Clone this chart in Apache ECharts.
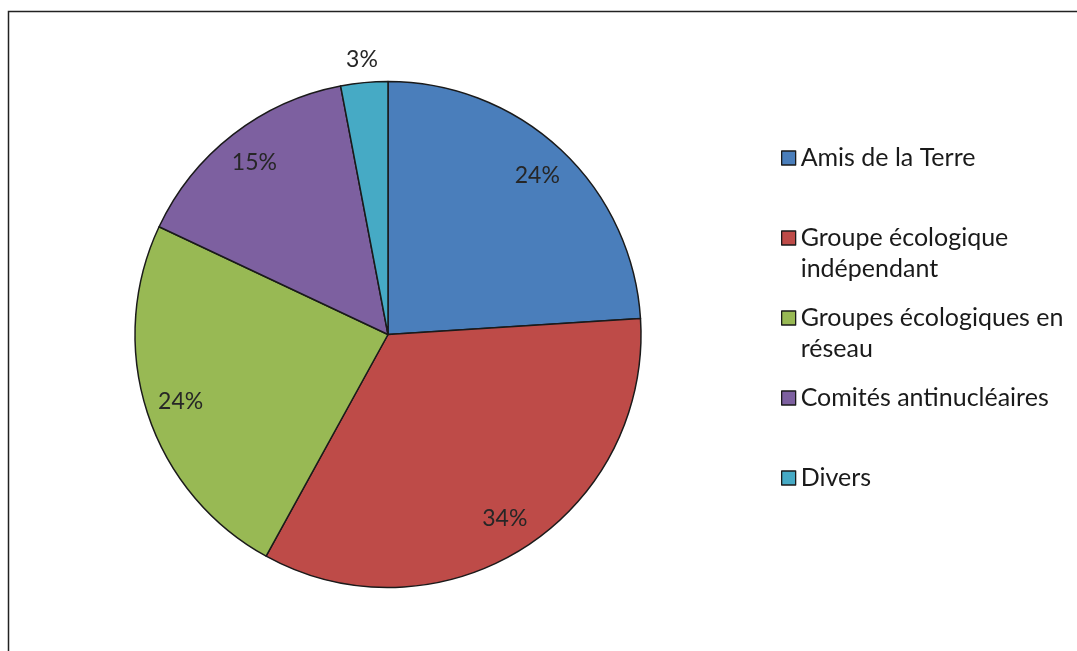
<!DOCTYPE html>
<html>
<head>
<meta charset="utf-8">
<style>
  html, body { margin: 0; padding: 0; background: #fff; }
  #chart { width: 1077px; height: 651px; }
</style>
<script src="https://cdn.jsdelivr.net/npm/echarts@6/dist/echarts.min.js"></script>
</head>
<body>
<div id="chart"></div>
<script>
// Répartition des groupes (en %)
var categories = [
  'Amis de la Terre',
  'Groupe écologique indépendant',
  'Groupes écologiques en réseau',
  'Comités antinucléaires',
  'Divers'
];
var values = [24, 34, 24, 15, 3];
// Legend text, wrapped as it is displayed
var legendLines = [
  ['Amis de la Terre'],
  ['Groupe écologique', 'indépendant'],
  ['Groupes écologiques en', 'réseau'],
  ['Comités antinucléaires'],
  ['Divers']
];
// Slices whose percentage sits outside the pie
var outsideLabels = ['Divers'];

var colors = ['#4A7EBB', '#BE4B48', '#98B954', '#7D60A0', '#46AAC5'];

var FONT = 'Lato, "Open Sans", sans-serif';
var LEGEND_FONT_SIZE = 25;
var LABEL_FONT_SIZE = 23;
var LINE_H = 31;
var R = 253;
var CENTER = [388, 334.5];
var LEGEND_LEFT = 781;
var LEGEND_FIRST_Y = 158;
var LEGEND_STEP = 80;

var chart = echarts.init(document.getElementById('chart'), null, { renderer: 'canvas' });

var pieData = categories.map(function (name, i) {
  return { name: name, value: values[i] };
});

// One legend block per entry. Wrapped entries get blank lines on top so the
// text block stays centred on the icon while the first line lines up with it.
var legends = categories.map(function (name, i) {
  var n = legendLines[i].length;
  var blank = new Array(n).join('\n');
  var blockH = (2 * n - 1) * LINE_H;
  var cy = LEGEND_FIRST_Y + i * LEGEND_STEP;
  return {
    data: [name],
    orient: 'vertical',
    left: LEGEND_LEFT,
    top: cy - blockH / 2,
    padding: 0,
    itemWidth: 14,
    itemHeight: 14,
    itemGap: 0,
    icon: 'rect',
    selectedMode: false,
    itemStyle: { borderColor: '#1a1a1a', borderWidth: 1.3 },
    formatter: function () { return blank + legendLines[i].join('\n'); },
    textStyle: {
      fontFamily: FONT,
      fontSize: LEGEND_FONT_SIZE,
      lineHeight: LINE_H,
      color: '#1a1a1a'
    }
  };
});

var labelStyle = {
  fontFamily: FONT,
  fontSize: LABEL_FONT_SIZE,
  color: '#262626'
};

chart.setOption({
  animation: false,
  color: colors,
  legend: legends,
  graphic: [{
    type: 'rect',
    silent: true,
    shape: { x: 8.5, y: 11.5, width: 1200, height: 800 },
    style: { fill: null, stroke: '#222', lineWidth: 1.5 }
  }],
  series: [
    {
      // the pie itself
      type: 'pie',
      center: CENTER,
      radius: [0, R],
      startAngle: 90,
      clockwise: true,
      avoidLabelOverlap: false,
      label: { show: false },
      labelLine: { show: false },
      itemStyle: { borderColor: '#1a1a1a', borderWidth: 1.5 },
      emphasis: { disabled: true },
      data: pieData
    },
    {
      // percentages inside the slices
      type: 'pie',
      center: CENTER,
      radius: [R * 0.7, R],
      startAngle: 90,
      clockwise: true,
      silent: true,
      avoidLabelOverlap: false,
      itemStyle: { color: 'rgba(0,0,0,0)', borderWidth: 0 },
      emphasis: { disabled: true },
      labelLine: { show: false },
      label: Object.assign({ show: true, position: 'inside', formatter: '{d}%' }, labelStyle),
      data: pieData.map(function (d) {
        return {
          name: d.name, value: d.value,
          label: { show: outsideLabels.indexOf(d.name) < 0 }
        };
      })
    },
    {
      // percentages just outside the smallest slices
      type: 'pie',
      center: CENTER,
      radius: [R, R * 1.16],
      startAngle: 90,
      clockwise: true,
      silent: true,
      avoidLabelOverlap: false,
      itemStyle: { color: 'rgba(0,0,0,0)', borderWidth: 0 },
      emphasis: { disabled: true },
      labelLine: { show: false },
      label: Object.assign({ show: true, position: 'inside', formatter: '{d}%' }, labelStyle),
      data: pieData.map(function (d) {
        return {
          name: d.name, value: d.value,
          label: { show: outsideLabels.indexOf(d.name) >= 0 }
        };
      })
    }
  ]
});
</script>
</body>
</html>
